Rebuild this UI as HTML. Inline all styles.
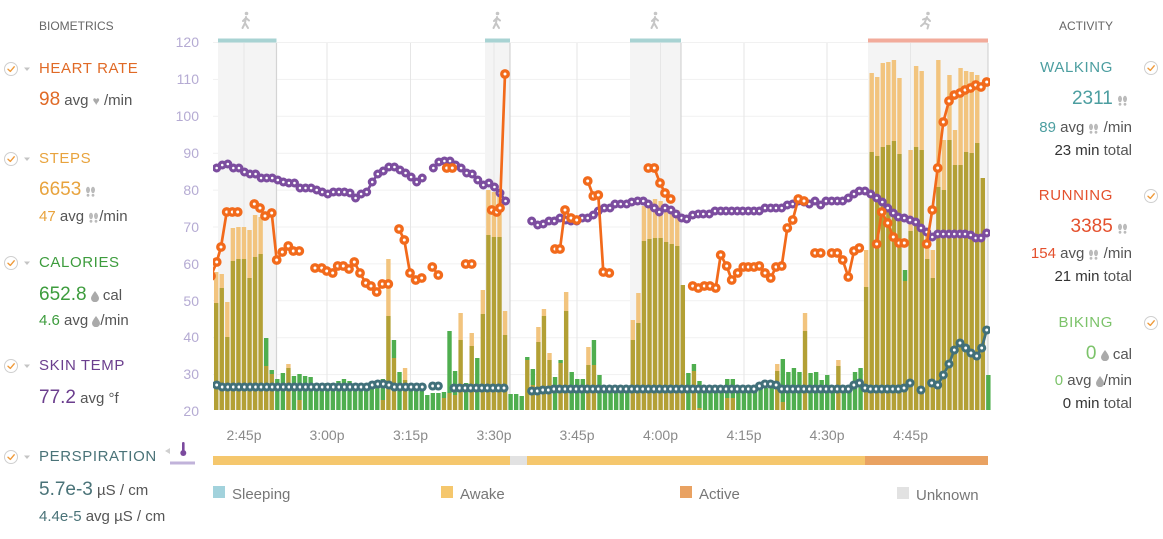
<!DOCTYPE html>
<html><head><meta charset="utf-8">
<style>
html,body{margin:0;padding:0;background:#fff;width:1163px;height:539px;overflow:hidden;font-family:"Liberation Sans",Arial,sans-serif;}
.t{position:absolute;white-space:nowrap;height:24px;line-height:24px;font-size:15px;color:#555;}
.h{letter-spacing:0.6px;}
.big{font-size:19px;}
.r{text-align:right;}
.dk{color:#333;}
#c{position:absolute;left:0;top:0;}
.ic{display:inline-block;vertical-align:middle;}
</style></head><body>
<svg id="c" width="1163" height="539" xmlns="http://www.w3.org/2000/svg" font-family="Liberation Sans, Arial, sans-serif">
<defs><clipPath id="pc"><rect x="213" y="30" width="777" height="385"/></clipPath></defs>
<g stroke="#f1f1f1" stroke-width="1">
<line x1="213" x2="988" y1="42.5" y2="42.5"/><line x1="213" x2="988" y1="79.4" y2="79.4"/>
<line x1="213" x2="988" y1="116.3" y2="116.3"/><line x1="213" x2="988" y1="153.2" y2="153.2"/>
<line x1="213" x2="988" y1="190.1" y2="190.1"/><line x1="213" x2="988" y1="227" y2="227"/>
<line x1="213" x2="988" y1="263.9" y2="263.9"/><line x1="213" x2="988" y1="300.8" y2="300.8"/>
<line x1="213" x2="988" y1="337.7" y2="337.7"/><line x1="213" x2="988" y1="374.6" y2="374.6"/>
</g>
<g fill="#f4f4f4">
<rect x="218" y="43" width="58" height="367"/><rect x="485" y="43" width="25" height="367"/>
<rect x="630" y="43" width="51" height="367"/><rect x="868" y="43" width="120" height="367"/>
</g>
<g stroke="#e6e6e6" stroke-width="1">
<line x1="244" x2="244" y1="43" y2="410"/><line x1="327" x2="327" y1="43" y2="410"/>
<line x1="410.5" x2="410.5" y1="43" y2="410"/><line x1="494" x2="494" y1="43" y2="410"/>
<line x1="577" x2="577" y1="43" y2="410"/><line x1="660.5" x2="660.5" y1="43" y2="410"/>
<line x1="744" x2="744" y1="43" y2="410"/><line x1="827" x2="827" y1="43" y2="410"/>
<line x1="910.5" x2="910.5" y1="43" y2="410"/>
</g>
<g stroke="#d4d4d4" stroke-width="1.2">
<line x1="276.5" x2="276.5" y1="43" y2="410"/><line x1="510" x2="510" y1="43" y2="410"/>
<line x1="681" x2="681" y1="43" y2="410"/><line x1="988" x2="988" y1="43" y2="410"/>
</g>
<rect x="218" y="38.5" width="58.5" height="4" fill="#a8d3d3"/>
<rect x="485" y="38.5" width="25" height="4" fill="#a8d3d3"/>
<rect x="630" y="38.5" width="51" height="4" fill="#a8d3d3"/>
<rect x="868" y="38.5" width="120" height="4" fill="#f2ab9b"/>
<g stroke="#c6c6c6" stroke-width="2" stroke-linecap="round" fill="none">
<g transform="translate(246,20)"><path d="M0,-3 L-1,3 M-1,3 L-3.5,8 M-1,3 L2,8 M0,-2 L-3,1 M0,-2 L3,0.5"/><circle cx="0.5" cy="-6.5" r="1.8" fill="#c6c6c6" stroke="none"/></g>
<g transform="translate(497,20)"><path d="M0,-3 L-1,3 M-1,3 L-3.5,8 M-1,3 L2,8 M0,-2 L-3,1 M0,-2 L3,0.5"/><circle cx="0.5" cy="-6.5" r="1.8" fill="#c6c6c6" stroke="none"/></g>
<g transform="translate(655,20)"><path d="M0,-3 L-1,3 M-1,3 L-3.5,8 M-1,3 L2,8 M0,-2 L-3,1 M0,-2 L3,0.5"/><circle cx="0.5" cy="-6.5" r="1.8" fill="#c6c6c6" stroke="none"/></g>
<g transform="translate(926,20)"><path d="M1,-3 L-1.5,3 M-1.5,3 L-5,6 M-1.5,3 L2.5,5 L1.5,8.5 M1,-2 L-3,-0.5 M1,-2 L4,1"/><circle cx="2" cy="-6.5" r="1.8" fill="#c6c6c6" stroke="none"/></g>
</g>
<g id="bars"></g>
<g id="lines" clip-path="url(#pc)"></g>
<g fill="#b5abd3" font-size="14" text-anchor="end">
<text x="199" y="47">120</text><text x="199" y="84">110</text><text x="199" y="121">100</text>
<text x="199" y="158">90</text><text x="199" y="195">80</text><text x="199" y="232">70</text>
<text x="199" y="269">60</text><text x="199" y="306">50</text><text x="199" y="342">40</text>
<text x="199" y="379">30</text><text x="199" y="416">20</text>
</g>
<g fill="#8a8a8a" font-size="14" text-anchor="middle">
<text x="244" y="440">2:45p</text><text x="327" y="440">3:00p</text><text x="410.5" y="440">3:15p</text>
<text x="494" y="440">3:30p</text><text x="577" y="440">3:45p</text><text x="660.5" y="440">4:00p</text>
<text x="744" y="440">4:15p</text><text x="827" y="440">4:30p</text><text x="910.5" y="440">4:45p</text>
</g>
<rect x="213" y="456" width="297" height="9" fill="#f5c76d"/>
<rect x="510" y="456" width="17" height="9" fill="#e2e2e2"/>
<rect x="527" y="456" width="338" height="9" fill="#f5c76d"/>
<rect x="865" y="456" width="123" height="9" fill="#e9a262"/>
<g font-size="15" fill="#777">
<rect x="213" y="486" width="12" height="12" fill="#a2d2dc"/><text x="232" y="499">Sleeping</text>
<rect x="441" y="486" width="12" height="12" fill="#f5c76d"/><text x="460" y="499">Awake</text>
<rect x="680" y="486" width="12" height="12" fill="#e9a262"/><text x="699" y="499">Active</text>
<rect x="897" y="487" width="12" height="12" fill="#e2e2e2"/><text x="916" y="500">Unknown</text>
</g>
<path d="M170,448 L165,451 L170,454Z" fill="#d0d0d0"/>
<rect x="182" y="442" width="2.6" height="10" rx="1.2" fill="#7b4a9e"/>
<circle cx="183.3" cy="453" r="3" fill="#7b4a9e"/>
<rect x="170" y="461.5" width="25" height="3" fill="#c1b3da"/>
<g id="checks"></g>
</svg>

<div class="t" style="left:39px;top:14px;font-size:12px;color:#666">BIOMETRICS</div>
<div class="t h" style="left:39px;top:57px;color:#e06a26">HEART RATE</div>
<div class="t" style="left:39px;top:88px"><span class="big" style="color:#e06a26">98</span> avg <span style="color:#aaa;font-size:12px">&#9829;</span> /min</div>
<div class="t h" style="left:39px;top:147px;color:#e8a33d">STEPS</div>
<div class="t" style="left:39px;top:178px"><span class="big" style="color:#e8a33d">6653</span> <svg class="ic" width="11" height="11" viewBox="0 0 11 11"><ellipse cx="3" cy="4" rx="2" ry="3.2" fill="#bbb"/><ellipse cx="8" cy="4" rx="2" ry="3.2" fill="#bbb"/><circle cx="3" cy="9.3" r="1.4" fill="#bbb"/><circle cx="8" cy="9.3" r="1.4" fill="#bbb"/></svg></div>
<div class="t" style="left:39px;top:205px"><span style="color:#e8a33d">47</span> avg <svg class="ic" width="11" height="11" viewBox="0 0 11 11"><ellipse cx="3" cy="4" rx="2" ry="3.2" fill="#bbb"/><ellipse cx="8" cy="4" rx="2" ry="3.2" fill="#bbb"/><circle cx="3" cy="9.3" r="1.4" fill="#bbb"/><circle cx="8" cy="9.3" r="1.4" fill="#bbb"/></svg>/min</div>
<div class="t h" style="left:39px;top:251px;color:#3d9c3d">CALORIES</div>
<div class="t" style="left:39px;top:283px"><span class="big" style="color:#3d9c3d">652.8</span> <svg class="ic" width="8" height="11" viewBox="0 0 8 11"><path d="M4 0 C4 0 0 5 0 7.2 A4 4 0 0 0 8 7.2 C8 5 4 0 4 0Z" fill="#aaa"/></svg> cal</div>
<div class="t" style="left:39px;top:309px"><span style="color:#3d9c3d">4.6</span> avg <svg class="ic" width="8" height="11" viewBox="0 0 8 11"><path d="M4 0 C4 0 0 5 0 7.2 A4 4 0 0 0 8 7.2 C8 5 4 0 4 0Z" fill="#aaa"/></svg>/min</div>
<div class="t h" style="left:39px;top:354px;color:#6b3e8e">SKIN TEMP</div>
<div class="t" style="left:39px;top:386px"><span class="big" style="color:#6b3e8e">77.2</span> avg °f</div>
<div class="t h" style="left:39px;top:445px;color:#4a7378">PERSPIRATION</div>
<div class="t" style="left:39px;top:478px"><span class="big" style="color:#4a7378">5.7e-3</span> µS / cm</div>
<div class="t" style="left:39px;top:505px"><span style="color:#4a7378">4.4e-5</span> avg µS / cm</div>

<div class="t r" style="right:50px;top:14px;font-size:12px;color:#666">ACTIVITY</div>
<div class="t h r" style="right:50px;top:56px;color:#4c9ea0">WALKING</div>
<div class="t r" style="right:35px;top:87px"><span class="big" style="color:#4c9ea0">2311</span> <svg class="ic" width="11" height="11" viewBox="0 0 11 11"><ellipse cx="3" cy="4" rx="2" ry="3.2" fill="#bbb"/><ellipse cx="8" cy="4" rx="2" ry="3.2" fill="#bbb"/><circle cx="3" cy="9.3" r="1.4" fill="#bbb"/><circle cx="8" cy="9.3" r="1.4" fill="#bbb"/></svg></div>
<div class="t r" style="right:31px;top:116px"><span style="color:#4c9ea0">89</span> avg <svg class="ic" width="11" height="11" viewBox="0 0 11 11"><ellipse cx="3" cy="4" rx="2" ry="3.2" fill="#bbb"/><ellipse cx="8" cy="4" rx="2" ry="3.2" fill="#bbb"/><circle cx="3" cy="9.3" r="1.4" fill="#bbb"/><circle cx="8" cy="9.3" r="1.4" fill="#bbb"/></svg> /min</div>
<div class="t r" style="right:31px;top:139px"><span class="dk">23 min</span> total</div>
<div class="t h r" style="right:50px;top:184px;color:#e4502d">RUNNING</div>
<div class="t r" style="right:35px;top:215px"><span class="big" style="color:#e4502d">3385</span> <svg class="ic" width="11" height="11" viewBox="0 0 11 11"><ellipse cx="3" cy="4" rx="2" ry="3.2" fill="#bbb"/><ellipse cx="8" cy="4" rx="2" ry="3.2" fill="#bbb"/><circle cx="3" cy="9.3" r="1.4" fill="#bbb"/><circle cx="8" cy="9.3" r="1.4" fill="#bbb"/></svg></div>
<div class="t r" style="right:31px;top:242px"><span style="color:#e4502d">154</span> avg <svg class="ic" width="11" height="11" viewBox="0 0 11 11"><ellipse cx="3" cy="4" rx="2" ry="3.2" fill="#bbb"/><ellipse cx="8" cy="4" rx="2" ry="3.2" fill="#bbb"/><circle cx="3" cy="9.3" r="1.4" fill="#bbb"/><circle cx="8" cy="9.3" r="1.4" fill="#bbb"/></svg> /min</div>
<div class="t r" style="right:31px;top:265px"><span class="dk">21 min</span> total</div>
<div class="t h r" style="right:50px;top:311px;color:#7cc36a">BIKING</div>
<div class="t r" style="right:31px;top:342px"><span class="big" style="color:#7cc36a">0</span> <svg class="ic" width="8" height="11" viewBox="0 0 8 11"><path d="M4 0 C4 0 0 5 0 7.2 A4 4 0 0 0 8 7.2 C8 5 4 0 4 0Z" fill="#aaa"/></svg> cal</div>
<div class="t r" style="right:31px;top:369px"><span style="color:#7cc36a">0</span> avg <svg class="ic" width="8" height="11" viewBox="0 0 8 11"><path d="M4 0 C4 0 0 5 0 7.2 A4 4 0 0 0 8 7.2 C8 5 4 0 4 0Z" fill="#aaa"/></svg>/min</div>
<div class="t r" style="right:31px;top:392px"><span class="dk">0 min</span> total</div>

<script>
(function(){
var NS='http://www.w3.org/2000/svg';
function el(n,a,p){var e=document.createElementNS(NS,n);for(var k in a)e.setAttribute(k,a[k]);p.appendChild(e);return e;}
var B=[[272,303],[274,288],[302,337],[228,261],[227,259],[227,259],[230,278],[215,257],[217,254],[366,338],
[374,370],[410,379],[410,373],[364,368],[410,376],[400,374],[410,376],[410,377],[410,387],[410,387],
[410,383],[410,383],[410,381],[410,379],[410,381],[410,385],[410,387],[410,387],[410,387],[410,383],
[400,379],[259,316],[358,340],[410,372],[368,380],[410,387],[410,388],[410,388],[410,395],[410,393],
[410,393],[398,392],[393,331],[395,371],[313,340],[410,383],[333,346],[410,358],[290,314],[190,235],
[192,237],[193,237],[311,335],[410,394],[410,394],[410,396],[360,357],[385,369],[327,342],[309,316],
[353,360],[410,377],[363,360],[292,311],[410,372],[410,379],[410,379],[347,365],[365,340],[410,375],
[410,387],[410,388],[410,388],[410,388],[410,388],[320,340],[293,323],[206,241],[207,239],[199,238],
[201,238],[205,242],[208,244],[210,246],[285,285],[410,373],[371,364],[408,381],[410,388],[410,388],
[410,388],[410,388],[398,379],[398,379],[410,388],[410,388],[410,388],[410,388],[410,388],[410,388],
[410,388],[364,371],[402,359],[410,372],[410,368],[410,372],[313,331],[410,373],[410,372],[410,380],
[410,375],[410,387],[360,366],[410,388],[410,386],[410,372],[410,368],[250,287],[73,152],[77,156],
[63,147],[62,145],[60,141],[78,154],[281,270],[150,231],[66,147],[71,150],[232,259],[250,278],
[60,187],[140,190],[75,140],[130,165],[68,165],[71,152],[72,153],[75,143],[178,178],[410,375]];
var gb=document.getElementById('bars');
for(var i=0;i<B.length;i++){
 var x=214+i*5.555,w=4.4,o=B[i][0],g=B[i][1],lo=Math.max(o,g);
 if(lo<410)el('rect',{x:x,y:lo,width:w,height:410-lo,fill:'#b3a035'},gb);
 if(o<g)el('rect',{x:x,y:o,width:w,height:g-o,fill:'#f2c47e'},gb);
 else if(g<o)el('rect',{x:x,y:g,width:w,height:o-g,fill:'#4fae4f'},gb);
}
function stepSeg(x0,ys){var out=[],cur=[];for(var i=0;i<ys.length;i++){if(ys[i]==null){if(cur.length)out.push(cur);cur=[];}else cur.push([x0+i*5.555,ys[i]]);}if(cur.length)out.push(cur);return out;}
var gl=document.getElementById('lines');
function series(segs,color,r,sw){
 segs.forEach(function(s){if(s.length>1)el('polyline',{points:s.map(function(p){return p[0]+','+p[1];}).join(' '),fill:'none',stroke:color,'stroke-width':2.7,'stroke-linejoin':'round'},gl);});
 segs.forEach(function(s){s.forEach(function(p){el('circle',{cx:p[0],cy:p[1],r:r,fill:'#fff',stroke:color,'stroke-width':sw},gl);});});
}
var P=stepSeg(216.7,[168,165,164,168,168,172,174,174,178,178,178,180,182,183,183,188,188,188,190,192,194,192,192,192,193,198,194,192,182,174,171,167,167,170,173,177,182,178,null,168,162,161,161,165,168,173,174,180,185,183,187,193,201]);
P.push([[531.7,221],[537.7,225],[543.3,224],[549,221],[554.3,221],[560,218],[565.7,220],[571,221],[576.7,221],[582.3,218],[587.7,218],[593.3,215],[598.3,211],[604.3,208],[610,208],[615,204],[620.7,204],[626.7,204],[631.7,202],[637.7,201],[643.3,201],[648.3,204],[654.3,208],[659.3,212],[665,208],[671,210],[676,214],[681.7,218],[686.7,219],[692.7,215],[698.3,214],[703.3,214],[709.3,214],[715,211],[720.7,211],[726,211],[731.7,211],[737.3,211],[742.7,211],[748.3,211],[754,211],[759.3,211],[765,208],[770.7,208],[776,208],[781.7,208],[787.3,205],[792.7,204],[798.3,201],[804,202],[809.3,204],[815,201],[820.7,205],[826,201],[831.7,201],[837.3,201],[842.7,201],[848.3,198],[854,194],[859.3,191],[865,191],[870.7,194],[876.7,198],[882.3,202],[887.7,208],[893.3,213],[898.3,217],[904.3,218],[910,220],[915.7,222],[921,228],[926.7,232],[932.3,237],[937.7,234],[943.3,234],[949,234],[954.3,234],[960,234],[965,234],[970.7,235],[975.7,238],[981,238],[986.7,233]]);
series(P,'#7c4d9f',2.9,3.2);
var O=[
[[211,276],[216.7,262],[221,247],[226.7,212],[232.3,212],[237.7,212]],
[[254.3,204],[260,208],[265,216],[271.7,213],[276.7,260],[282.3,252],[288.3,246],[293.3,251],[299.3,251]],
[[315,268],[321.7,268],[326.7,271],[332.7,273],[337.7,266],[343.3,266],[349,269],[354.3,262],[360,273],[365.7,283],[371,286],[376.7,292],[382.3,284],[388.3,284]],
[[399,229],[404.3,240],[410,273],[415.7,280],[421.7,278]],
[[432.3,267],[438.3,275]],
[[446.7,168],[452.3,168]],
[[465.7,264],[471.7,264]],
[[491.7,210],[496.7,212],[500,208],[505,74]],
[[555,249],[560,249],[565,210],[571,218],[576.7,220]],
[[587.7,181],[593.3,196],[598.3,195],[603.3,272],[609.3,273]],
[[648.3,168],[654.3,168],[660,183],[665,193],[670.7,199]],
[[692.7,286],[698.3,288],[704.3,286],[710,286],[715.7,288],[720.7,255],[726.7,266],[731.7,280],[737.7,273],[743.3,267],[748.3,267],[754,267],[759.3,266],[765,273],[770.7,278],[776,267],[781.7,266],[787.3,228],[792.7,220],[798.3,199],[804,201]],
[[815,253],[820.7,253]],
[[831.7,253],[837.3,253],[842.7,260],[848.3,277],[854,251],[859.3,248]],
[[876.7,244],[881.7,212],[887.7,223],[893.3,237],[899,243],[904.3,243]],
[[926.7,244],[932.3,210],[937.7,168],[943.3,122],[949,101],[954.3,95],[960,93],[965,90],[970.5,88],[975.7,85],[981,87],[986.7,82]]
];
series(O,'#f26a1b',3.2,3.4);
var T=stepSeg(216.7,[385,387,387,387,387,387,387,387,387,387,387,387,387,387,387,387,387,387,387,387,387,387,387,387,387,387,387,387,385,384,384,385,387,387,387,387,387,387]);
T.push([[432.7,386],[438.3,386]]);
T=T.concat(stepSeg(454,[388,388,388,388,388,388,388,388,388,388]));
T=T.concat(stepSeg(531.7,[391,391,390,390,389,389,389,389,389,389,389,389,389,389,389,389,389,389,389,389,389,389,389,389,389,389,389,389,389,389,389,389,389,389,389,389,389,389,389,389,389,386,384,384,385,389,389,389,389,389,389,389,389,389,389,389,389,389,385,383,388,389,389,389,389,389,389]));
T.push([[898.3,389],[904,388],[910,383]]);
T.push([[921,390]]);
T.push([[931.7,383],[937.7,385],[943.3,375],[949,364],[954.3,350],[960,343],[965.7,348],[971,353],[976.7,356],[981.7,348],[986.7,330]]);
series(T,'#41707a',3,3.1);
var gc=document.getElementById('checks');
function check(cx,cy,tri){
 el('circle',{cx:cx,cy:cy,r:6.5,fill:'#fff',stroke:'#cfcfcf','stroke-width':1},gc);
 el('path',{d:'M'+(cx-3)+','+(cy+0.2)+' L'+(cx-0.7)+','+(cy+2.4)+' L'+(cx+3.2)+','+(cy-2.2),fill:'none',stroke:'#ef9a3a','stroke-width':1.4,'stroke-linecap':'round','stroke-linejoin':'round'},gc);
 if(tri)el('path',{d:'M'+(cx+13)+','+(cy-1.5)+' L'+(cx+19)+','+(cy-1.5)+' L'+(cx+16)+','+(cy+2)+'Z',fill:'#c4c4c4'},gc);
}
[69,159,263,366,457].forEach(function(y){check(11,y,true);});
[68,196,323].forEach(function(y){check(1151,y,false);});
})();
</script>
</body></html>
